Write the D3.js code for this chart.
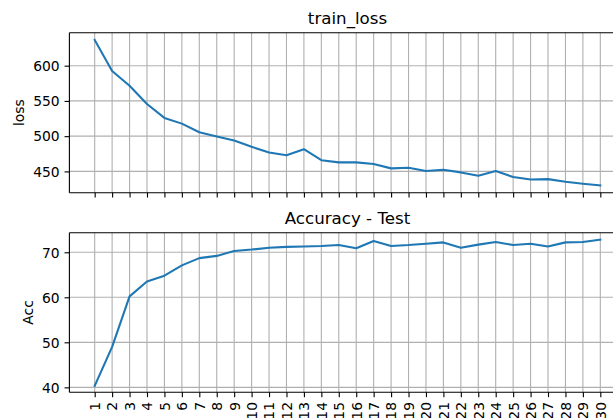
<!DOCTYPE html>
<html>
<head>
<meta charset="utf-8">
<script src="https://cdn.jsdelivr.net/npm/d3@7"></script>
<style>
  html, body { margin: 0; padding: 0; background: #fff; }
  svg { display: block; font-family: "DejaVu Sans", sans-serif; }
</style>
</head>
<body>
<svg id="chart" width="613" height="418"></svg>
<script>
// Epochs
const epochs = d3.range(1, 31);

// Training loss per epoch
const trainLoss = [636.5, 592.4, 571.6, 545.6, 525.9, 517.8, 505.5, 499.5, 493.9, 484.9,
                   476.8, 473.0, 481.5, 465.9, 462.8, 462.8, 460.4, 454.3, 455.2, 450.5,
                   452.4, 448.6, 443.8, 450.5, 442.0, 438.6, 439.1, 435.3, 432.5, 430.1];

// Test accuracy per epoch
const testAcc = [40.3, 49.0, 60.2, 63.5, 64.8, 67.1, 68.7, 69.2, 70.3, 70.6,
                 71.0, 71.2, 71.3, 71.4, 71.6, 70.9, 72.5, 71.4, 71.6, 71.9,
                 72.2, 71.0, 71.7, 72.3, 71.6, 71.9, 71.3, 72.2, 72.3, 72.8];

// Axis ticks
const lossTicks = [450, 500, 550, 600];
const accTicks = [40, 50, 60, 70];

const svg = d3.select("#chart");
const PT = 100 / 72;           // points -> px at 100 dpi
const tickLen = 3.5 * PT;
const tickPad = 3.5 * PT;
const tickFont = 10 * PT;
const titleFont = 12 * PT;
const lineColor = "#1f77b4";

const xLeft = 69.4, xRight = 625.6;
const x = d3.scaleLinear().domain([-0.45, 31.45]).range([xLeft, xRight]);

function panel(opts) {
  const { top, bottom, data, yDomain, yTicks, title, ylabel, ylabelX, showXLabels } = opts;
  const y = d3.scaleLinear().domain(yDomain).range([bottom, top]);
  const g = svg.append("g");

  // grid
  g.append("g").selectAll("line.vg").data(epochs).join("line")
    .attr("x1", d => x(d)).attr("x2", d => x(d))
    .attr("y1", top).attr("y2", bottom)
    .attr("stroke", "#b0b0b0").attr("stroke-width", 0.8 * PT);
  g.append("g").selectAll("line.hg").data(yTicks).join("line")
    .attr("x1", xLeft).attr("x2", xRight)
    .attr("y1", d => y(d)).attr("y2", d => y(d))
    .attr("stroke", "#b0b0b0").attr("stroke-width", 0.8 * PT);

  // data line
  const line = d3.line().x((d, i) => x(epochs[i])).y(d => y(d));
  g.append("path").datum(data)
    .attr("d", line)
    .attr("fill", "none")
    .attr("stroke", lineColor)
    .attr("stroke-width", 1.5 * PT)
    .attr("stroke-linejoin", "round")
    .attr("stroke-linecap", "square");

  // spines
  const spine = { stroke: "#000", "stroke-width": 0.8 * PT };
  g.append("line").attr("x1", xLeft).attr("x2", xRight).attr("y1", top).attr("y2", top)
    .attr("stroke", spine.stroke).attr("stroke-width", spine["stroke-width"]);
  g.append("line").attr("x1", xLeft).attr("x2", xRight).attr("y1", bottom).attr("y2", bottom)
    .attr("stroke", spine.stroke).attr("stroke-width", spine["stroke-width"]);
  g.append("line").attr("x1", xLeft).attr("x2", xLeft).attr("y1", top).attr("y2", bottom)
    .attr("stroke", spine.stroke).attr("stroke-width", spine["stroke-width"]);

  // y axis ticks & labels
  const yAxis = d3.axisLeft(y).tickValues(yTicks).tickSize(tickLen).tickPadding(tickPad);
  const ya = g.append("g").attr("transform", `translate(${xLeft},0)`).call(yAxis);
  ya.select(".domain").remove();
  ya.selectAll(".tick line").attr("stroke", "#000").attr("stroke-width", 0.8 * PT);
  ya.selectAll(".tick text").attr("font-size", tickFont).attr("fill", "#000")
    .attr("font-family", "DejaVu Sans").attr("dy", "0.34em");

  // x axis ticks
  const xAxis = d3.axisBottom(x).tickValues(epochs).tickSize(tickLen).tickPadding(tickPad)
    .tickFormat(d => String(d));
  const xa = g.append("g").attr("transform", `translate(0,${bottom})`).call(xAxis);
  xa.select(".domain").remove();
  xa.selectAll(".tick line").attr("stroke", "#000").attr("stroke-width", 0.8 * PT);
  if (showXLabels) {
    xa.selectAll(".tick text")
      .attr("font-size", tickFont).attr("fill", "#000").attr("font-family", "DejaVu Sans")
      .attr("text-anchor", "end")
      .attr("transform", `translate(0,${tickLen + tickPad}) rotate(-90)`)
      .attr("x", 0).attr("y", 0).attr("dy", "0.35em");
  } else {
    xa.selectAll(".tick text").remove();
  }

  // title
  g.append("text")
    .attr("x", (xLeft + xRight) / 2).attr("y", top - 6 * PT)
    .attr("text-anchor", "middle")
    .attr("font-size", titleFont).attr("fill", "#000")
    .text(title);

  // y label
  g.append("text")
    .attr("transform", `translate(${ylabelX},${(top + bottom) / 2}) rotate(-90)`)
    .attr("text-anchor", "middle")
    .attr("font-size", tickFont).attr("fill", "#000")
    .text(ylabel);
}

panel({
  top: 32.7, bottom: 192.7,
  data: trainLoss,
  yDomain: [419.8, 646.8],
  yTicks: lossTicks,
  title: "train_loss",
  ylabel: "loss",
  ylabelX: 24,
  showXLabels: false
});

panel({
  top: 232.7, bottom: 392.3,
  data: testAcc,
  yDomain: [38.9, 74.35],
  yTicks: accTicks,
  title: "Accuracy - Test",
  ylabel: "Acc",
  ylabelX: 33.3,
  showXLabels: true
});
</script>
</body>
</html>
